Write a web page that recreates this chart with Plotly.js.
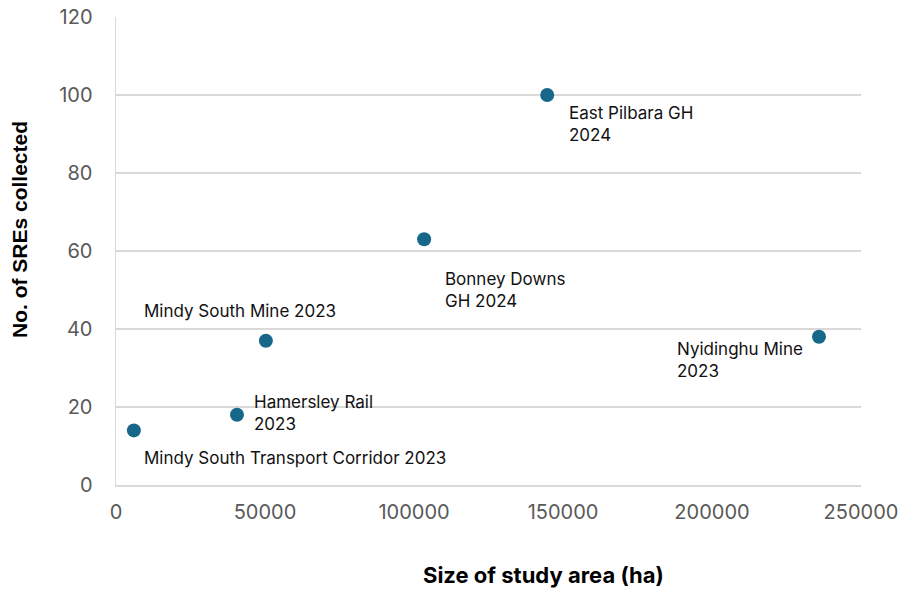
<!DOCTYPE html>
<html>
<head>
<meta charset="utf-8">
<script src="https://cdn.plot.ly/plotly-3.0.1.min.js"></script>
<style>html,body{margin:0;padding:0;background:#fff;}#chart{width:900px;height:589px;}</style>
</head>
<body>
<div id="chart"></div>
<script>
const studyNames = ["Mindy South Transport Corridor 2023", "Hamersley Rail<br>2023", "Mindy South Mine 2023", "Bonney Downs<br>GH 2024", "East Pilbara GH<br>2024", "Nyidinghu Mine<br>2023"];
const studyAreaHa = [6000, 40600, 50300, 103400, 144700, 235900];
const sresCollected = [14, 18, 37, 63, 100, 38];
const yTicks = [0, 20, 40, 60, 80, 100, 120];
const xTicks = [0, 50000, 100000, 150000, 200000, 250000];

// label offsets (pixels) relative to each point
const labelShiftX = [8, 15, -124, 19, 20, -144];
const labelShiftY = [-28, 2, 30, -51, -29, -23];

const annotations = studyNames.map((t, i) => ({
  x: studyAreaHa[i], y: sresCollected[i], xref: 'x', yref: 'y',
  text: t, showarrow: false, xanchor: 'left', yanchor: 'middle', align: 'left',
  xshift: labelShiftX[i], yshift: labelShiftY[i],
  font: {family: 'Inter, "Open Sans", sans-serif', size: 17, color: '#111111'}
}));
annotations.push({
  xref: 'paper', yref: 'paper', x: (543 - 116) / 745, y: -(575 - 485) / 468,
  text: 'Size of study area (ha)', showarrow: false, xanchor: 'center', yanchor: 'middle',
  font: {family: 'Inter, "Liberation Sans", sans-serif', size: 22, color: '#000', weight: 'bold'}
});
annotations.push({
  xref: 'paper', yref: 'paper', x: -(116 - 19) / 745, y: (485 - 230) / 468,
  text: 'No. of SREs collected', showarrow: false, textangle: -90, xanchor: 'center', yanchor: 'middle',
  font: {family: '"Liberation Sans", Arial, sans-serif', size: 21, color: '#000', weight: 'bold'}
});

const trace = {
  x: studyAreaHa, y: sresCollected, type: 'scatter', mode: 'markers',
  marker: {size: 14, color: '#17678a'},
  hoverinfo: 'x+y'
};

const layout = {
  width: 900, height: 589,
  margin: {l: 116, r: 39, t: 17, b: 104},
  paper_bgcolor: '#fff', plot_bgcolor: '#fff',
  showlegend: false,
  font: {family: 'Inter, "Open Sans", sans-serif'},
  xaxis: {
    range: [0, 250000], tickvals: xTicks, ticktext: xTicks.map(String),
    showgrid: false, zeroline: false, showline: true, linecolor: '#d9d9d9', linewidth: 1.5,
    ticks: '', tickfont: {size: 20, color: '#595959'}, ticklabelstandoff: 8
  },
  yaxis: {
    range: [0, 120], tickvals: yTicks, ticktext: yTicks.map(String),
    showgrid: true, gridcolor: '#d9d9d9', gridwidth: 1.5,
    zeroline: false, showline: true, linecolor: '#d9d9d9', linewidth: 1.5,
    ticks: '', tickfont: {size: 20, color: '#595959'}, ticklabelstandoff: 18
  },
  annotations: annotations
};

Plotly.newPlot('chart', [trace], layout, {staticPlot: true, displayModeBar: false});
</script>
</body>
</html>
